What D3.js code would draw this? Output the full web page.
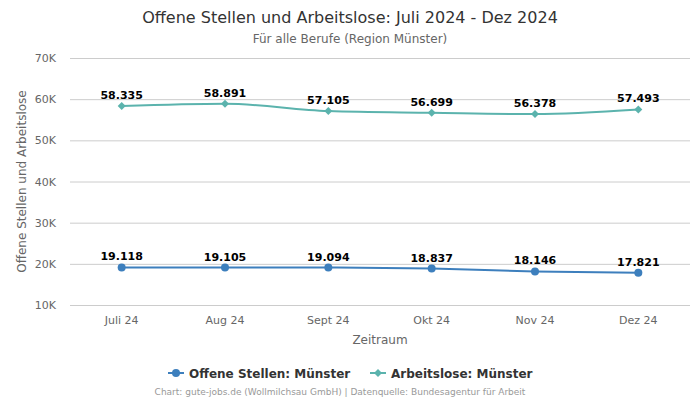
<!DOCTYPE html>
<html><head><meta charset="utf-8">
<script src="https://cdn.jsdelivr.net/npm/d3@7"></script>
<style>
body{margin:0;background:#fff;}
svg{font-family:"DejaVu Sans",sans-serif;display:block;}
</style></head>
<body><svg id="c" width="700" height="400"></svg>
<script>
const categories = ["Juli 24","Aug 24","Sept 24","Okt 24","Nov 24","Dez 24"];
const offeneStellen = [19118,19105,19094,18837,18146,17821];
const arbeitslose = [58335,58891,57105,56699,56378,57493];
const yTicks = [10000,20000,30000,40000,50000,60000,70000];
const seriesNames = ["Offene Stellen: Münster","Arbeitslose: Münster"];

const svg = d3.select("#c");
const L=70,R=690,T=58,B=305;
const x = d3.scaleBand().domain(categories).range([L,R]);
const y = d3.scaleLinear().domain([10000,70000]).range([B,T]);
const fmt = v => d3.format(",")(v).replace(/,/g,".");

svg.append("text").attr("x",350).attr("y",23).attr("text-anchor","middle")
  .attr("font-size",16).attr("fill","#333").text("Offene Stellen und Arbeitslose: Juli 2024 - Dez 2024");
svg.append("text").attr("x",350).attr("y",43).attr("text-anchor","middle")
  .attr("font-size",12).attr("fill","#666").text("Für alle Berufe (Region Münster)");

// grid
svg.append("g").selectAll("line").data(yTicks).join("line")
  .attr("x1",L).attr("x2",R).attr("y1",d=>y(d)+0.5).attr("y2",d=>y(d)+0.5)
  .attr("stroke","#ccc").attr("stroke-width",1);
svg.append("g").selectAll("text").data(yTicks).join("text")
  .attr("x",56).attr("y",d=>y(d)+4).attr("text-anchor","end")
  .attr("font-size",11).attr("fill","#666").text(d=>(d/1000)+"K");
svg.append("g").selectAll("text").data(categories).join("text")
  .attr("x",d=>x(d)+x.bandwidth()/2).attr("y",324).attr("text-anchor","middle")
  .attr("font-size",11).attr("fill","#666").text(d=>d);
svg.append("text").attr("x",380).attr("y",344).attr("text-anchor","middle")
  .attr("font-size",12).attr("fill","#666").text("Zeitraum");
svg.append("text").attr("transform",`translate(26,${(T+B)/2}) rotate(-90)`).attr("text-anchor","middle")
  .attr("font-size",12).attr("fill","#666").text("Offene Stellen und Arbeitslose");

const cx = d => x(d)+x.bandwidth()/2;
const line = d3.line().x((d,i)=>cx(categories[i])).y(d=>y(d)).curve(d3.curveMonotoneX);

const series = [
  {vals:offeneStellen,color:"#3d7fbd",sym:"circle"},
  {vals:arbeitslose,color:"#5bb3ad",sym:"diamond"}
];
series.forEach(s=>{
  svg.append("path").attr("d",line(s.vals)).attr("fill","none").attr("stroke",s.color).attr("stroke-width",2);
  const g = svg.append("g");
  s.vals.forEach((v,i)=>{
    const px=cx(categories[i]), py=y(v);
    if(s.sym==="circle") g.append("circle").attr("cx",px).attr("cy",py).attr("r",4).attr("fill",s.color);
    else g.append("path").attr("d",`M${px},${py-4}L${px+4},${py}L${px},${py+4}L${px-4},${py}Z`).attr("fill",s.color);
    g.append("text").attr("x",px).attr("y",py-7).attr("text-anchor","middle")
      .attr("font-size",11).attr("font-weight","bold").attr("fill","#000").text(fmt(v));
  });
});

// legend
const leg = svg.append("g");
const items=[{x:168,c:"#3d7fbd",sym:"circle"},{x:370,c:"#5bb3ad",sym:"diamond"}];
items.forEach((it,i)=>{
  leg.append("line").attr("x1",it.x).attr("x2",it.x+16).attr("y1",373).attr("y2",373).attr("stroke",it.c).attr("stroke-width",2);
  const px=it.x+8,py=373;
  if(it.sym==="circle") leg.append("circle").attr("cx",px).attr("cy",py).attr("r",4).attr("fill",it.c);
  else leg.append("path").attr("d",`M${px},${py-4}L${px+4},${py}L${px},${py+4}L${px-4},${py}Z`).attr("fill",it.c);
  leg.append("text").attr("x",it.x+21).attr("y",377.5).attr("font-size",12).attr("font-weight","bold").attr("fill","#333").text(seriesNames[i]);
});
svg.append("text").attr("x",340).attr("y",395).attr("text-anchor","middle")
  .attr("font-size",9).attr("fill","#999").text("Chart: gute-jobs.de (Wollmilchsau GmbH) | Datenquelle: Bundesagentur für Arbeit");
</script></body></html>
